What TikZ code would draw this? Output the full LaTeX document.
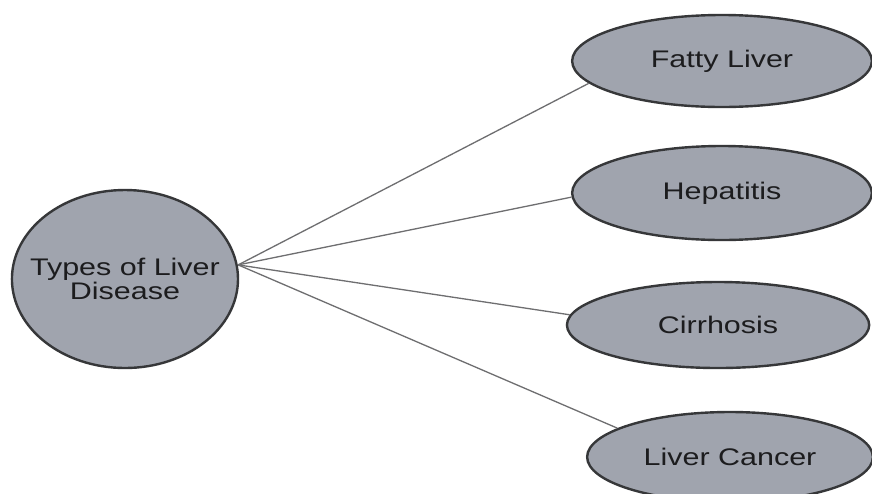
\documentclass[tikz,border=0pt]{standalone}
\usepackage{fontspec}
\setmainfont{Liberation Sans}
\usepackage{xcolor}
\usepackage{tikz}
\usetikzlibrary{shapes.geometric}
\tikzset{
  blob/.style={ellipse,draw=cLine,line width=2.4pt,fill=cFill,text=cText,inner sep=0pt,
    minimum width=#1,font=\fontsize{24}{24}\selectfont,align=center},
  link/.style={draw=cLink,line width=1.3pt}
}
\definecolor{cFill}{HTML}{A0A4AE}
\definecolor{cLine}{HTML}{363739}
\definecolor{cText}{HTML}{1C1C1E}
\definecolor{cLink}{HTML}{6E6E70}

\begin{document}
\begin{tikzpicture}[x=1pt, y=-1pt, xscale=1.27, every node/.style={transform shape}]
    \path[use as bounding box, fill=white] (0,0) rectangle (686.6,493);

    % Nodes
    \node[blob=178pt, minimum height=178pt, inner xsep=-30pt] (main) at (98.4,279) {Types of Liver\\Disease};
    \node[blob=236pt, minimum height=92pt] (fatty) at (568.5,61) {Fatty Liver};
    \node[blob=236pt, minimum height=94pt] (hep) at (568.5,193) {Hepatitis};
    \node[blob=238pt, minimum height=86pt] (cirr) at (565.4,325) {Cirrhosis};
    \node[blob=225pt, minimum height=90pt] (cancer) at (574.8,457) {Liver Cancer};

    % Paths
    \draw[link] (main.9) -- (fatty.192);
    \draw[link] (main.9) -- (hep.182);
    \draw[link] (main.9) -- (cirr.175);
    \draw[link] (main.9) -- (cancer.162);
\end{tikzpicture}
\end{document}
